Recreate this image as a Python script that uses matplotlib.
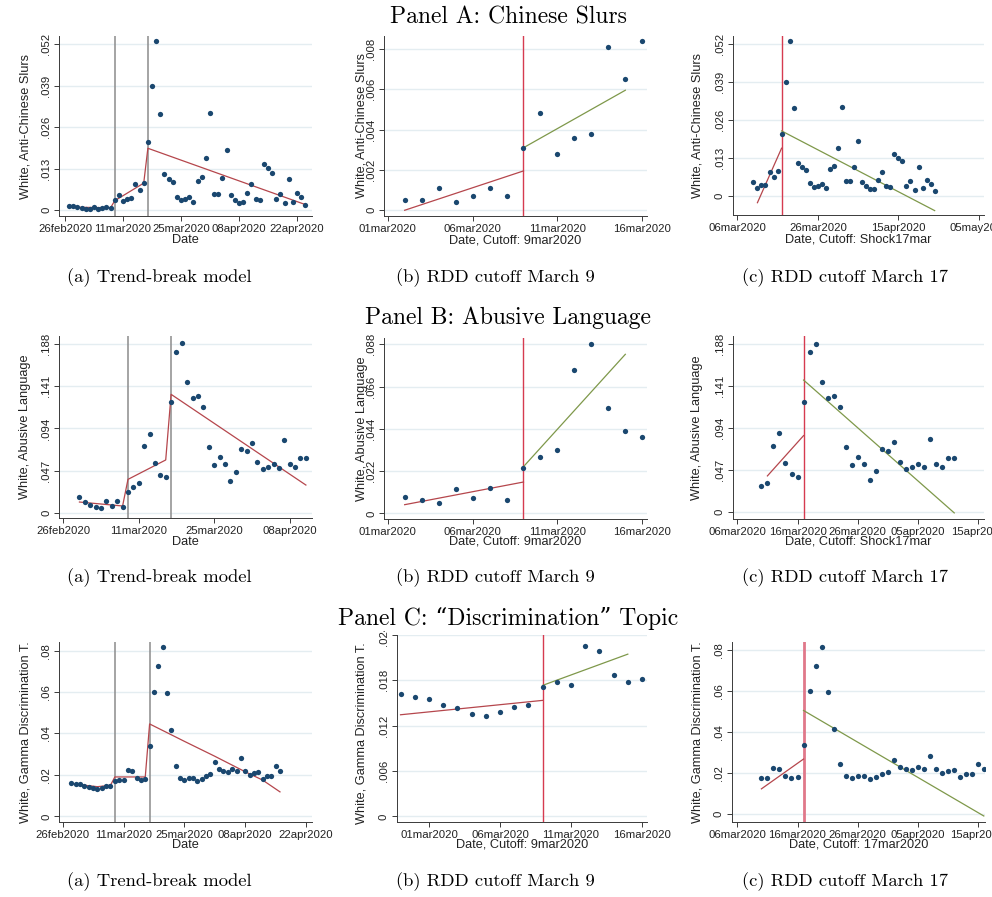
import datetime as dt
import numpy as np
import matplotlib
matplotlib.use("Agg")
import matplotlib.pyplot as plt
from matplotlib.patches import Rectangle

# ---------------- data ----------------
slur_start = "2020-02-27"
slur_vals = [0.0015, 0.0015, 0.0010, 0.0006, 0.0005, 0.0005, 0.0011, 0.0004, 0.0007, 0.0011, 0.0007,
             0.0031, 0.0048, 0.0028, 0.0036, 0.0038, 0.0081, 0.0065, 0.0084,
             0.0213, 0.0390, 0.0528, 0.0301, 0.0112, 0.0098, 0.0090, 0.0043, 0.0032, 0.0035, 0.0041,
             0.0027, 0.0092, 0.0103, 0.0162,
             0.0304, 0.0050, 0.0050, 0.0100, 0.0188, 0.0049, 0.0033, 0.0024, 0.0025, 0.0054, 0.0081,
             0.0035, 0.0032, 0.0144, 0.0131, 0.0118, 0.0035, 0.0050, 0.0022, 0.0099, 0.0026, 0.0055,
             0.0041, 0.0017]

abuse_start = "2020-02-29"
abuse_vals = [0.0174, 0.0122, 0.0085, 0.0071, 0.0054, 0.0128, 0.0080, 0.0134, 0.0067,
              0.0235, 0.0294, 0.0329, 0.0745, 0.0882, 0.0551, 0.0427, 0.0400,
              0.1238, 0.1790, 0.1887, 0.1457, 0.1279, 0.1301, 0.1175, 0.0730, 0.0530, 0.0623,
              0.0541, 0.0356, 0.0460, 0.0708, 0.0686,
              0.0782, 0.0567, 0.0486, 0.0512, 0.0545, 0.0504, 0.0816, 0.0541, 0.0508, 0.0608, 0.0612]

disc_start = "2020-02-28"
disc_vals = [0.0162, 0.0158, 0.0155, 0.0147, 0.0143, 0.0135, 0.0133, 0.0138, 0.0144, 0.0147,
             0.0171, 0.0177, 0.0173, 0.0225, 0.0218, 0.0187, 0.0177, 0.0181,
             0.0338, 0.0599, 0.0724, 0.0819, 0.0596, 0.0415, 0.0243, 0.0187, 0.0175, 0.0184,
             0.0187, 0.0172, 0.0182, 0.0196, 0.0206,
             0.0264, 0.0227, 0.0219, 0.0214, 0.0227, 0.0217, 0.0283, 0.0217, 0.0198, 0.0208,
             0.0214, 0.0182, 0.0193, 0.0196, 0.0243, 0.0221]

# fitted lines (date, fitted value)
fitA_a_dates = ["2020-02-27", "2020-03-08", "2020-03-09", "2020-03-16", "2020-03-17", "2020-04-24"]
fitA_a_vals = [0.0010, 0.0008, 0.0030, 0.0085, 0.0194, 0.0018]
fitA_b_pre_dates, fitA_b_pre_vals = ["2020-03-02", "2020-03-09"], [0.0000, 0.00195]
fitA_b_post_dates, fitA_b_post_vals = ["2020-03-09", "2020-03-15"], [0.0031, 0.00595]
fitA_c_pre_dates, fitA_c_pre_vals = ["2020-03-11", "2020-03-17"], [-0.0023, 0.0163]
fitA_c_post_dates, fitA_c_post_vals = ["2020-03-17", "2020-04-24"], [0.0222, -0.0050]

fitB_a_dates = ["2020-02-29", "2020-03-08", "2020-03-09", "2020-03-16", "2020-03-17", "2020-04-11"]
fitB_a_vals = [0.0122, 0.0078, 0.0374, 0.0590, 0.1320, 0.0311]
fitB_b_pre_dates, fitB_b_pre_vals = ["2020-03-02", "2020-03-09"], [0.0045, 0.0163]
fitB_b_post_dates, fitB_b_post_vals = ["2020-03-09", "2020-03-15"], [0.0243, 0.0828]
fitB_c_pre_dates, fitB_c_pre_vals = ["2020-03-11", "2020-03-17"], [0.0407, 0.0858]
fitB_c_post_dates, fitB_c_post_vals = ["2020-03-17", "2020-04-11"], [0.1480, -0.0007]

fitC_a_dates = ["2020-02-28", "2020-03-02", "2020-03-05", "2020-03-08", "2020-03-09", "2020-03-16",
                "2020-03-17", "2020-03-25", "2020-04-01", "2020-04-08", "2020-04-12", "2020-04-16"]
fitC_a_vals = [0.0158, 0.0150, 0.0143, 0.0150, 0.0190, 0.0190, 0.0446, 0.0362, 0.0290, 0.0215,
               0.0175, 0.0118]
fitC_b_pre_dates, fitC_b_pre_vals = ["2020-02-28", "2020-03-09"], [0.01342, 0.01532]
fitC_b_post_dates, fitC_b_post_vals = ["2020-03-09", "2020-03-15"], [0.0173, 0.02143]
fitC_c_pre_dates, fitC_c_pre_vals = ["2020-03-10", "2020-03-17"], [0.0122, 0.0268]
fitC_c_post_dates, fitC_c_post_vals = ["2020-03-17", "2020-04-16"], [0.0506, -0.0011]

# ticks and labels
ticks_slur = [0, 0.013, 0.026, 0.039, 0.052]
labels_slur = ["0", ".013", ".026", ".039", ".052"]
ticks_slur_b = [0, 0.002, 0.004, 0.006, 0.008]
labels_slur_b = ["0", ".002", ".004", ".006", ".008"]
ticks_abuse = [0, 0.047, 0.094, 0.141, 0.188]
labels_abuse = ["0", ".047", ".094", ".141", ".188"]
ticks_abuse_b = [0, 0.022, 0.044, 0.066, 0.088]
labels_abuse_b = ["0", ".022", ".044", ".066", ".088"]
ticks_disc = [0, 0.02, 0.04, 0.06, 0.08]
labels_disc = ["0", ".02", ".04", ".06", ".08"]
ticks_disc_b = [0, 0.006, 0.012, 0.018, 0.024]
labels_disc_b = ["0", ".006", ".012", ".018", ".024"]

xt_a = ["2020-02-26", "2020-03-11", "2020-03-25", "2020-04-08", "2020-04-22"]
xt_a_B = ["2020-02-26", "2020-03-11", "2020-03-25", "2020-04-08"]
xt_b = ["2020-03-01", "2020-03-06", "2020-03-11", "2020-03-16"]
xt_c_A = ["2020-03-06", "2020-03-26", "2020-04-15", "2020-05-05"]
xt_c = ["2020-03-06", "2020-03-16", "2020-03-26", "2020-04-05", "2020-04-15"]

ylab_slur = "White, Anti-Chinese Slurs"
ylab_abuse = "White, Abusive Language"
ylab_disc = "White, Gamma Discrimination T."

panel_titles = ["Panel A: Chinese Slurs", "Panel B: Abusive Language",
                "Panel C: \u201cDiscrimination\u201d Topic"]
captions = ["(a) Trend-break model", "(b) RDD cutoff March 9", "(c) RDD cutoff March 17"]

# ---------------- helpers ----------------
BASE = dt.date(2020, 3, 1)


def dnum(s):
    return (dt.date.fromisoformat(s) - BASE).days


def dlab(s):
    return dt.date.fromisoformat(s).strftime("%d%b%Y").lower()


def series(start, vals):
    x = dnum(start) + np.arange(len(vals))
    return x, np.asarray(vals)


W, H = 992, 897
fig = plt.figure(figsize=(W / 100, H / 100), dpi=100)
fig.patch.set_facecolor("white")

NAVY = "#1a476f"
RED = "#b5464c"
GREEN = "#7e984a"
GRAY = "#8c8c8c"
VRED = "#d63b50"
GRID = "#e4edf1"
AX = "#3a3a3a"
SANS = "Liberation Sans"
SERIF = ["cmr10", "DejaVu Serif"]


def make_panel(box, xlim, ylim, start, vals, dfrom, dto, yt, yl, xt, ylab, xlab,
               ylab_x, xlab_y, fits, vlines, vcolor, vlw=1.0, ylab_y=None):
    L, R, T, B = box
    ax = fig.add_axes([L / W, 1 - B / H, (R - L) / W, (B - T) / H])
    ax.set_facecolor("none")
    x, y = series(start, vals)
    m = (x >= dnum(dfrom)) & (x <= dnum(dto))
    for xv in vlines:
        ax.axvline(dnum(xv), color=vcolor, lw=vlw, zorder=2)
    for fd, fv, fc in fits:
        ax.plot([dnum(d) for d in fd], fv, color=fc, lw=0.9, zorder=3)
    ax.plot(x[m], y[m], "o", color=NAVY, ms=3.8, mec=NAVY, mew=0, zorder=4)
    ax.set_xlim(*xlim)
    ax.set_ylim(*ylim)
    ax.set_yticks(yt, yl)
    ax.set_xticks([dnum(s) for s in xt], [dlab(s) for s in xt])
    ax.grid(axis="y", color=GRID, lw=1.0, zorder=0)
    ax.set_axisbelow(True)
    for s in ["top", "right"]:
        ax.spines[s].set_visible(False)
    for s in ["left", "bottom"]:
        ax.spines[s].set_color(AX)
        ax.spines[s].set_linewidth(0.7)
    ax.tick_params(axis="both", colors=AX, length=3.4, width=0.7, pad=2.5,
                   labelsize=8.2, labelcolor="#222222")
    for t in ax.get_yticklabels():
        t.set_rotation(90)
        t.set_va("center")
        t.set_ha("right")
        t.set_fontfamily(SANS)
    for t in ax.get_xticklabels():
        t.set_fontfamily(SANS)
    ax.set_ylabel(ylab, fontsize=9.2, family=SANS, color="#222222", va="center",
                  rotation_mode="anchor")
    yfrac = 0.5 if ylab_y is None else (B - ylab_y) / (B - T)
    ax.yaxis.set_label_coords((ylab_x - L) / (R - L), yfrac)
    ax.set_xlabel(xlab, fontsize=9.2, family=SANS, color="#222222", va="center")
    ax.xaxis.set_label_coords(0.5, -(xlab_y - B) / (B - T))
    return ax


# Row A
make_panel((59.3, 311.7, 36, 216), (-5.38, 55.55), (-0.00178, 0.0545),
           slur_start, slur_vals, "2020-02-27", "2020-04-24", ticks_slur, labels_slur, xt_a,
           ylab_slur, "Date", 25, 239.5,
           [(fitA_a_dates, fitA_a_vals, RED)], ["2020-03-09", "2020-03-17"], GRAY, 1.1)
make_panel((384.3, 646.7, 36, 215.7), (-0.2, 15.26), (-0.00027, 0.00864),
           slur_start, slur_vals, "2020-03-02", "2020-03-16", ticks_slur_b, labels_slur_b, xt_b,
           ylab_slur, "Date, Cutoff: 9mar2020", 361.7, 240,
           [(fitA_b_pre_dates, fitA_b_pre_vals, RED), (fitA_b_post_dates, fitA_b_post_vals, GREEN)],
           ["2020-03-09"], VRED, 1.0)
make_panel((732.7, 984, 36, 215), (3.86, 66.25), (-0.0065, 0.0546),
           slur_start, slur_vals, "2020-03-10", "2020-04-24", ticks_slur, labels_slur, xt_c_A,
           ylab_slur, "Date, Cutoff: Shock17mar", 697.5, 240,
           [(fitA_c_pre_dates, fitA_c_pre_vals, RED), (fitA_c_post_dates, fitA_c_post_vals, GREEN)],
           ["2020-03-17"], VRED, 1.0)

# Row B
make_panel((59.3, 311.7, 336, 518.3), (-4.74, 42.08), (-0.0059, 0.1969),
           abuse_start, abuse_vals, "2020-02-29", "2020-04-11", ticks_abuse, labels_abuse, xt_a_B,
           ylab_abuse, "Date", 25, 541.7,
           [(fitB_a_dates, fitB_a_vals, RED)], ["2020-03-09", "2020-03-17"], GRAY, 1.1)
make_panel((384.3, 646.7, 338, 518.7), (-0.2, 15.26), (-0.0028, 0.0913),
           abuse_start, abuse_vals, "2020-03-02", "2020-03-16", ticks_abuse_b, labels_abuse_b, xt_b,
           ylab_abuse, "Date, Cutoff: 9mar2020", 361.7, 541.7,
           [(fitB_b_pre_dates, fitB_b_pre_vals, RED), (fitB_b_post_dates, fitB_b_post_vals, GREEN)],
           ["2020-03-09"], VRED, 1.0)
make_panel((732.7, 984, 336, 518.7), (4.24, 45.94), (-0.0072, 0.1973),
           abuse_start, abuse_vals, "2020-03-10", "2020-04-11", ticks_abuse, labels_abuse, xt_c,
           ylab_abuse, "Date, Cutoff: Shock17mar", 697, 541.7,
           [(fitB_c_pre_dates, fitB_c_pre_vals, RED), (fitB_c_post_dates, fitB_c_post_vals, GREEN)],
           ["2020-03-17"], VRED, 1.0)

# Row C
make_panel((59.3, 311.7, 641.7, 821.7), (-4.78, 53.3), (-0.0026, 0.0843),
           disc_start, disc_vals, "2020-02-28", "2020-04-16", ticks_disc, labels_disc, xt_a,
           ylab_disc, "Date", 25, 844.5,
           [(fitC_a_dates, fitC_a_vals, RED)], ["2020-03-09", "2020-03-17"], GRAY, 1.1)
make_panel((396.7, 646.7, 634.7, 822), (-2.27, 15.33), (-0.00075, 0.0240),
           disc_start, disc_vals, "2020-02-28", "2020-03-16", ticks_disc_b, labels_disc_b, xt_b,
           ylab_disc, "Date, Cutoff: 9mar2020", 361.7, 844.5,
           [(fitC_b_pre_dates, fitC_b_pre_vals, RED), (fitC_b_post_dates, fitC_b_post_vals, GREEN)],
           ["2020-03-09"], VRED, 1.0, ylab_y=733)
make_panel((731.7, 985, 641.7, 821.7), (4.05, 46.2), (-0.0039, 0.0843),
           disc_start, disc_vals, "2020-03-10", "2020-04-16", ticks_disc, labels_disc, xt_c,
           ylab_disc, "Date, Cutoff: 17mar2020", 697, 844.5,
           [(fitC_c_pre_dates, fitC_c_pre_vals, RED), (fitC_c_post_dates, fitC_c_post_vals, GREEN)],
           ["2020-03-17"], "#e0788a", 2.0)

# mask the clipped top tick label of panel C(b), as in the source image
fig.add_artist(Rectangle((372 / W, 1 - 630.5 / H), 22 / W, 16 / H, transform=fig.transFigure,
                         facecolor="white", edgecolor="none", zorder=5))

# titles and captions
for ttl, yc in zip(panel_titles, [17.5, 317.5, 618.5]):
    fig.text(508 / W, 1 - yc / H, ttl, ha="center", va="center", fontsize=17,
             family=SERIF, zorder=6)
for yc in [278, 578, 882]:
    for cap, xc in zip(captions, [159, 495, 845]):
        fig.text(xc / W, 1 - yc / H, cap, ha="center", va="center", fontsize=13.4,
                 family=SERIF, zorder=6)

fig.savefig("out.png", dpi=100, facecolor="white")
